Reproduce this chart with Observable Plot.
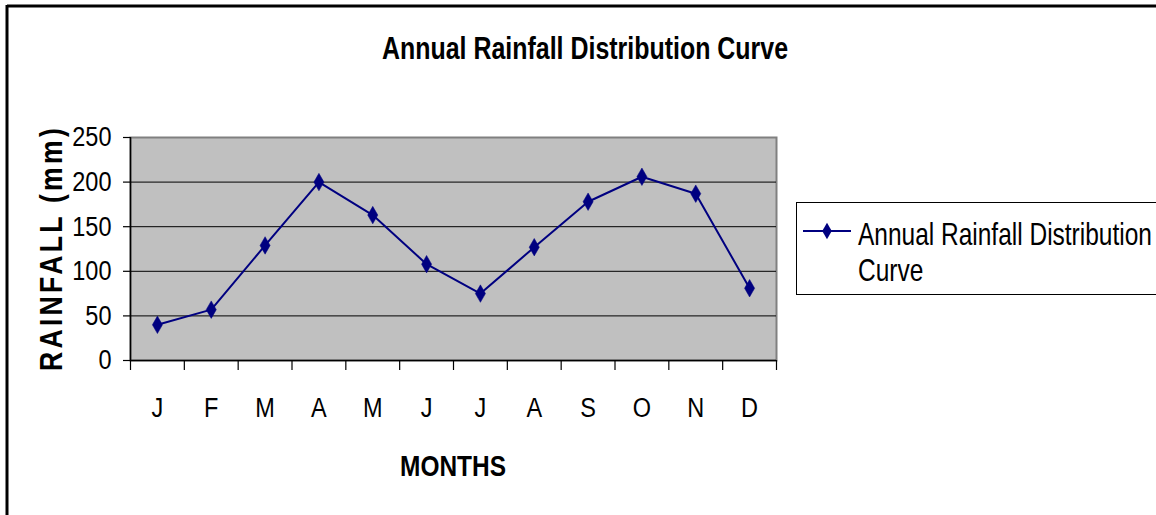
<!DOCTYPE html>
<html>
<head>
<meta charset="utf-8">
<script src="https://cdn.jsdelivr.net/npm/d3@7"></script>
<script src="https://cdn.jsdelivr.net/npm/@observablehq/plot@0.6"></script>
<style>
  html, body { margin: 0; padding: 0; background: #fff; }
  #chart svg { display: block; }
</style>
</head>
<body>
<div id="chart"></div>
<script>
const months = ["J", "F", "M", "A", "M", "J", "J", "A", "S", "O", "N", "D"];
const rainfall = [40, 57, 129, 200, 163, 108, 75, 127, 178, 206, 187, 81];
const yTicks = [0, 50, 100, 150, 200, 250];
const gridTicks = [50, 100, 150, 200];
const titleText = "Annual Rainfall Distribution Curve";
const seriesName = "Annual Rainfall Distribution Curve";
const xTitle = "MONTHS";
const yTitle = "RAINFALL (mm)";

const FONT = "'Liberation Sans', Arial, sans-serif";
const navy = "#000080";
const SX = 0.84; // horizontal condensing to mimic a narrow face

const data = months.map((m, i) => ({ i, month: m, value: rainfall[i] }));
const bounds = d3.range(months.length + 1);
const centers = months.map((_, i) => i + 0.5);

const W = 1156, H = 515;
const chart = Plot.plot({
  width: W,
  height: H,
  marginLeft: 130,
  marginRight: 380,
  marginTop: 137,
  marginBottom: 155,
  style: { fontFamily: FONT, background: "transparent", color: "#000", overflow: "visible" },
  x: { type: "linear", domain: [0, months.length] },
  y: { type: "linear", domain: [0, 250] },
  marks: [
    Plot.frame({ fill: "#c0c0c0", stroke: "#808080", strokeWidth: 2 }),
    Plot.ruleY(gridTicks, { stroke: "#000", strokeWidth: 1 }),
    Plot.axisY({ ticks: yTicks, tickSize: 7, tickPadding: 12, fontSize: 28, label: null, stroke: "#000", strokeWidth: 1.2 }),
    Plot.axisX({ ticks: bounds, tickFormat: () => "", tickSize: 10, label: null, stroke: "#000", strokeWidth: 1.2 }),
    Plot.axisX({ ticks: centers, tickFormat: (d) => months[Math.floor(d)], tickSize: 0, tickPadding: 37, fontSize: 28, label: null }),
    Plot.ruleX([0], { stroke: "#000", strokeWidth: 1.5 }),
    Plot.ruleY([0], { stroke: "#000", strokeWidth: 1.5 }),
    Plot.line(data, { x: (d) => d.i + 0.5, y: "value", stroke: navy, strokeWidth: 2 }),
    Plot.dot(data, { x: (d) => d.i + 0.5, y: "value", symbol: "diamond", r: 5.3, fill: navy, stroke: navy, strokeWidth: 0.5 })
  ]
});

const svg = d3.select(chart);
// condense Plot's tick labels horizontally
svg.selectAll("text").each(function () {
  const t = this.getAttribute("transform") || "";
  this.setAttribute("transform", t + ` scale(${SX},1)`);
});

// outer frame (top & left visible)
svg.append("line").attr("x1", 7).attr("x2", W + 5).attr("y1", 6).attr("y2", 6).attr("stroke", "#000").attr("stroke-width", 3);
svg.append("line").attr("x1", 7).attr("x2", 7).attr("y1", 5).attr("y2", H + 5).attr("stroke", "#000").attr("stroke-width", 3);

function label(x, y, str, size, weight, sx, extra) {
  return svg.append("text")
    .attr("transform", `translate(${x},${y}) ${extra || ""} scale(${sx},1)`)
    .attr("text-anchor", "middle")
    .attr("font-family", FONT).attr("font-weight", weight).attr("font-size", size)
    .attr("fill", "#000").text(str);
}

// title
label(585, 59, titleText, 31, "bold", 0.805);
// axis titles
label(453, 476, xTitle, 30, "bold", 0.815);
label(62, 248, yTitle, 32, "bold", 0.83, "rotate(-90)").attr("letter-spacing", 4);

// legend
const lg = svg.append("g");
lg.append("rect").attr("x", 796.5).attr("y", 202.5).attr("width", 420).attr("height", 92)
  .attr("fill", "#fff").attr("stroke", "#000").attr("stroke-width", 1);
lg.append("line").attr("x1", 803).attr("x2", 851).attr("y1", 231).attr("y2", 231)
  .attr("stroke", navy).attr("stroke-width", 2);
lg.append("path").attr("transform", "translate(827,231)")
  .attr("d", d3.symbol(d3.symbolDiamond, Math.PI * 5 * 5)()).attr("fill", navy);
const words = seriesName.split(" ");
[[words.slice(0, 3).join(" "), 245], [words.slice(3).join(" "), 281]].forEach(([s, y]) => {
  lg.append("text")
    .attr("transform", `translate(858,${y}) scale(0.79,1)`)
    .attr("text-anchor", "start")
    .attr("font-family", FONT).attr("font-size", 31).attr("fill", "#000").text(s);
});

document.getElementById("chart").appendChild(chart);
</script>
</body>
</html>
